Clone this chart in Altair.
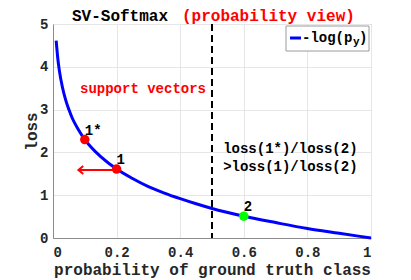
import altair as alt
import pandas as pd

# curve -log(p_y)
p_vals = [0.01, 0.015, 0.02, 0.03, 0.04, 0.05, 0.06, 0.07, 0.08, 0.10, 0.12, 0.15,
          0.20, 0.25, 0.30, 0.35, 0.40, 0.45, 0.50, 0.60, 0.70, 0.80, 0.90, 1.00]
loss_vals = [4.61, 4.20, 3.91, 3.51, 3.22, 3.00, 2.81, 2.66, 2.53, 2.30, 2.12, 1.90,
             1.61, 1.39, 1.20, 1.05, 0.92, 0.80, 0.69, 0.51, 0.36, 0.22, 0.11, 0.00]

# marked samples
pt_p = [0.1, 0.2, 0.6]
pt_loss = [2.30, 1.61, 0.51]
pt_label = ["1*", "1", "2"]
pt_color = ["#ff0000", "#ff0000", "#00ff00"]

# arrow
arrow_p = [0.2, 0.08]
arrow_loss = [1.59, 1.59]

# threshold
thresh_p = [0.5]

# annotations
ann_text = ["support vectors", "loss(1*)/loss(2)", ">loss(1)/loss(2)"]
ann_p = [0.283, 0.535, 0.535]
ann_loss = [3.48, 2.08, 1.66]
ann_color = ["#ff0000", "#000000", "#000000"]

x_ticks = [0, 0.2, 0.4, 0.6, 0.8, 1]
y_ticks = [0, 1, 2, 3, 4, 5]

FONT = "Liberation Mono"

curve_df = pd.DataFrame({"p": p_vals, "loss": loss_vals})
pts_df = pd.DataFrame({"p": pt_p, "loss": pt_loss, "label": pt_label, "color": pt_color})
arrow_df = pd.DataFrame({"p": arrow_p, "loss": arrow_loss})
head_df = pd.DataFrame({"p": arrow_p[-1:], "loss": arrow_loss[-1:]})
thresh_df = pd.DataFrame({"p": thresh_p})
ann_df = pd.DataFrame({"text": ann_text, "p": ann_p, "loss": ann_loss, "color": ann_color})

xs = alt.Scale(domain=[0, 1], nice=False, zero=False)
ys = alt.Scale(domain=[0, 5], nice=False)

xenc = alt.X("p:Q", scale=xs,
             axis=alt.Axis(values=x_ticks, format="~g", title="probability of ground truth class",
                           grid=True, ticks=False, labelPadding=7,
                           titleY=36, titleBaseline="alphabetic"))
yenc = alt.Y("loss:Q", scale=ys,
             axis=alt.Axis(values=y_ticks, format="d", title="loss",
                           grid=True, ticks=False, labelPadding=5,
                           titleX=-22, titleBaseline="middle"))

base_axes = alt.Chart(curve_df).mark_line(opacity=0).encode(x=xenc, y=yenc)

curve = alt.Chart(curve_df).mark_line(color="#0000ff", strokeWidth=3, interpolate="monotone").encode(
    x=alt.X("p:Q", scale=xs), y=alt.Y("loss:Q", scale=ys))

thresh = alt.Chart(thresh_df).mark_rule(color="#000000", strokeWidth=2, strokeDash=[7, 4]).encode(
    x=alt.X("p:Q", scale=xs))

arrow_line = alt.Chart(arrow_df).mark_line(color="#ff0000", strokeWidth=2).encode(
    x=alt.X("p:Q", scale=xs), y=alt.Y("loss:Q", scale=ys))
arrow_head = alt.Chart(head_df).mark_point(
    shape="M0.6,-1L-0.6,0L0.6,1", size=64, filled=False, color="#ff0000",
    strokeWidth=2, xOffset=2.4, opacity=1).encode(
    x=alt.X("p:Q", scale=xs), y=alt.Y("loss:Q", scale=ys))

points = alt.Chart(pts_df).mark_circle(size=90, opacity=1).encode(
    x=alt.X("p:Q", scale=xs), y=alt.Y("loss:Q", scale=ys),
    color=alt.Color("color:N", scale=None))
pt_labels = alt.Chart(pts_df).mark_text(
    font=FONT, fontSize=14, fontWeight="bold", align="left", dx=0, dy=-9, color="#000000").encode(
    x=alt.X("p:Q", scale=xs), y=alt.Y("loss:Q", scale=ys), text="label:N")

ann_center = alt.Chart(ann_df.iloc[:1]).mark_text(
    font=FONT, fontSize=14, fontWeight="bold", align="center").encode(
    x=alt.X("p:Q", scale=xs), y=alt.Y("loss:Q", scale=ys), text="text:N",
    color=alt.Color("color:N", scale=None))
ann_left = alt.Chart(ann_df.iloc[1:]).mark_text(
    font=FONT, fontSize=14, fontWeight="bold", align="left").encode(
    x=alt.X("p:Q", scale=xs), y=alt.Y("loss:Q", scale=ys), text="text:N",
    color=alt.Color("color:N", scale=None))

# title (two colours)
title_df = pd.DataFrame({"t": ["SV-Softmax", "(probability view)"],
                         "c": ["#000000", "#ff0000"]})
title1 = alt.Chart(title_df.iloc[:1]).mark_text(
    font=FONT, fontSize=16, fontWeight="bold", align="left", baseline="alphabetic").encode(
    x=alt.value(19), y=alt.value(-3), text="t:N", color=alt.Color("c:N", scale=None))
title2 = alt.Chart(title_df.iloc[1:]).mark_text(
    font=FONT, fontSize=16, fontWeight="bold", align="left", baseline="alphabetic").encode(
    x=alt.value(129), y=alt.value(-3), text="t:N", color=alt.Color("c:N", scale=None))

# legend box
leg_df = pd.DataFrame({"a": ["-log(p"], "b": ["y"], "c": [")"]})
leg_box = alt.Chart(leg_df).mark_rect(fill="#ffffff", stroke="#9a9a9a", strokeWidth=1).encode(
    x=alt.value(233), x2=alt.value(316), y=alt.value(2), y2=alt.value(27))
leg_line = alt.Chart(leg_df).mark_rule(color="#0000ff", strokeWidth=3).encode(
    x=alt.value(237), x2=alt.value(248), y=alt.value(14))
leg_t1 = alt.Chart(leg_df).mark_text(font=FONT, fontSize=14, fontWeight="bold",
                                     align="left", baseline="alphabetic", color="#000000").encode(
    x=alt.value(249), y=alt.value(18), text="a:N")
leg_t2 = alt.Chart(leg_df).mark_text(font=FONT, fontSize=11, fontWeight="bold",
                                     align="left", baseline="alphabetic", color="#000000").encode(
    x=alt.value(300), y=alt.value(21), text="b:N")
leg_t3 = alt.Chart(leg_df).mark_text(font=FONT, fontSize=14, fontWeight="bold",
                                     align="left", baseline="alphabetic", color="#000000").encode(
    x=alt.value(306), y=alt.value(18), text="c:N")

chart = alt.layer(
    base_axes, thresh, curve, arrow_line, arrow_head, points, pt_labels,
    ann_center, ann_left, leg_box, leg_line, leg_t1, leg_t2, leg_t3, title1, title2
).properties(
    width=318, height=214,
    padding={"left": 45, "top": 16, "right": 24, "bottom": 46},
    autosize=alt.AutoSizeParams(type="none"),
).configure_view(
    stroke="#8c8c8c", strokeWidth=1
).configure_axis(
    labelFont=FONT, labelFontSize=14, labelFontWeight="bold", labelColor="#262626",
    titleFont=FONT, titleFontSize=16, titleFontWeight="bold", titleColor="#262626",
    gridColor="#e6e6e6", domainColor="#8c8c8c"
)

chart.save("out.html", embed_options={"renderer": "svg", "actions": False})
